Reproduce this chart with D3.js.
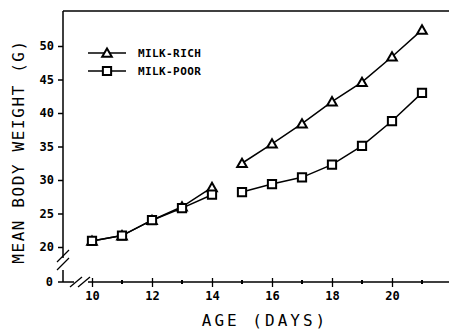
<!DOCTYPE html>
<html>
<head>
<meta charset="utf-8">
<script src="https://cdn.jsdelivr.net/npm/d3@7"></script>
<style>
  body { margin: 0; background: #fff; }
  svg { display: block; }
  text { font-family: "DejaVu Sans Mono", monospace; fill: #000; }
</style>
</head>
<body>
<div id="chart"></div>
<script>
// data
const days = [10, 11, 12, 13, 14, 15, 16, 17, 18, 19, 20, 21];
const milkRich = [20.9, 21.7, 24.0, 26.0, 28.9, 32.5, 35.4, 38.4, 41.7, 44.6, 48.4, 52.4];
const milkPoor = [20.9, 21.7, 24.0, 25.8, 27.8, 28.2, 29.4, 30.4, 32.3, 35.1, 38.8, 43.0];
const yTicks = [20, 25, 30, 35, 40, 45, 50];
const xMajor = [10, 12, 14, 16, 18, 20];
const xMinor = [11, 13, 15, 17, 19, 21];
const segments = [[10, 14], [15, 21]];   // lines are broken between day 14 and 15

const W = 449, H = 330;
const axisX = 63, axisY = 282, topY = 11;

const svg = d3.select("#chart").append("svg")
    .attr("width", W)
    .attr("height", H);

const x = d3.scaleLinear().domain([10, 20]).range([92, 392]);
const y = d3.scaleLinear().domain([20, 50]).range([247, 46]);

// frame: top line
svg.append("line")
    .attr("x1", axisX).attr("x2", W)
    .attr("y1", topY).attr("y2", topY)
    .attr("stroke", "#000").attr("stroke-width", 1.5);

// y axis
const yAxis = svg.append("g")
    .attr("transform", `translate(${axisX},0)`)
    .call(d3.axisLeft(y).tickValues(yTicks).tickSize(5).tickPadding(4))
    .call(g => g.select(".domain").remove());

yAxis.selectAll("line").attr("stroke-width", 1.5);
yAxis.selectAll("text")
    .style("font-family", "DejaVu Sans Mono, monospace")
    .style("font-size", "12px")
    .style("font-weight", "bold");

// zero tick below the break
yAxis.append("line")
    .attr("x1", -5).attr("x2", 0)
    .attr("y1", axisY).attr("y2", axisY)
    .attr("stroke", "#000").attr("stroke-width", 1.5);
yAxis.append("text")
    .attr("x", -10).attr("y", axisY)
    .attr("dy", "0.32em")
    .attr("text-anchor", "end")
    .style("font-size", "12px")
    .style("font-weight", "bold")
    .text("0");

// y axis line with break
svg.append("path")
    .attr("d", `M${axisX},${topY}V258M${axisX},270V${axisY}`)
    .attr("fill", "none").attr("stroke", "#000").attr("stroke-width", 1.5);
[256, 264].forEach(cy => {
    svg.append("line")
        .attr("x1", axisX - 6).attr("y1", cy + 6)
        .attr("x2", axisX + 6).attr("y2", cy - 6)
        .attr("stroke", "#000").attr("stroke-width", 1.3);
});

// x axis line with break
svg.append("path")
    .attr("d", `M${axisX},${axisY}H74M88,${axisY}H${W}`)
    .attr("fill", "none").attr("stroke", "#000").attr("stroke-width", 1.5);
[76, 84].forEach(cx => {
    svg.append("line")
        .attr("x1", cx - 6).attr("y1", axisY + 5)
        .attr("x2", cx + 6).attr("y2", axisY - 5)
        .attr("stroke", "#000").attr("stroke-width", 1.3);
});

// x ticks
const xAxis = svg.append("g")
    .attr("transform", `translate(0,${axisY - 4})`)
    .call(d3.axisBottom(x).tickValues(xMajor).tickSize(9).tickPadding(4))
    .call(g => g.select(".domain").remove());
xAxis.selectAll("line").attr("stroke-width", 1.3);
xAxis.selectAll("text")
    .style("font-family", "DejaVu Sans Mono, monospace")
    .style("font-size", "12px")
    .style("font-weight", "bold");

svg.append("g")
    .selectAll("line")
    .data(xMinor)
    .join("line")
    .attr("x1", d => x(d)).attr("x2", d => x(d))
    .attr("y1", axisY - 2).attr("y2", axisY + 2)
    .attr("stroke", "#000").attr("stroke-width", 2);

// axis titles
svg.append("text")
    .attr("transform", `translate(24,${(topY + axisY) / 2 + 5}) rotate(-90)`)
    .attr("text-anchor", "middle")
    .style("font-size", "16px")
    .style("letter-spacing", "1.6px")
    .text("MEAN BODY WEIGHT (G)");

svg.append("text")
    .attr("x", 265).attr("y", 326)
    .attr("text-anchor", "middle")
    .style("font-size", "16px")
    .style("letter-spacing", "3px")
    .text("AGE (DAYS)");

// lines
const line = d3.line()
    .x(d => x(d.day))
    .y(d => y(d.v));

const series = [
    { name: "MILK-RICH", values: milkRich, marker: "triangle" },
    { name: "MILK-POOR", values: milkPoor, marker: "square" }
];

const triangle = d3.symbol().type(d3.symbolTriangle).size(40);
const square = d3.symbol().type(d3.symbolSquare).size(68);

series.forEach(s => {
    const pts = days.map((d, i) => ({ day: d, v: s.values[i] }));
    segments.forEach(([a, b]) => {
        svg.append("path")
            .datum(pts.filter(p => p.day >= a && p.day <= b))
            .attr("d", line)
            .attr("fill", "none")
            .attr("stroke", "#000")
            .attr("stroke-width", 1.5);
    });
    svg.append("g")
        .selectAll("path")
        .data(pts)
        .join("path")
        .attr("transform", d => `translate(${x(d.day)},${y(d.v) + (s.marker === "triangle" ? 1 : 0)})`)
        .attr("d", s.marker === "triangle" ? triangle : square)
        .attr("fill", "#fff")
        .attr("stroke", "#000")
        .attr("stroke-width", 2);
});

// legend
const legend = svg.append("g");
series.forEach((s, i) => {
    const ly = 53 + i * 18;
    legend.append("line")
        .attr("x1", 88).attr("x2", 126)
        .attr("y1", ly).attr("y2", ly)
        .attr("stroke", "#000").attr("stroke-width", 1.5);
    legend.append("path")
        .attr("transform", `translate(107,${ly + (s.marker === "triangle" ? 1 : 0)})`)
        .attr("d", s.marker === "triangle" ? triangle : square)
        .attr("fill", "#fff")
        .attr("stroke", "#000")
        .attr("stroke-width", 2);
    legend.append("text")
        .attr("x", 138).attr("y", ly)
        .attr("dy", "0.35em")
        .style("font-size", "11px")
        .style("font-weight", "bold")
        .style("letter-spacing", "0.4px")
        .text(s.name);
});
</script>
</body>
</html>
